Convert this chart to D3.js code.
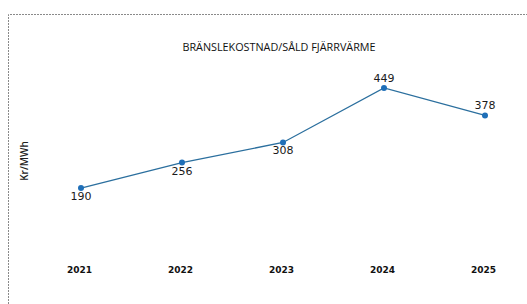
<!DOCTYPE html>
<html>
<meta charset="utf-8">
<script src="https://cdn.jsdelivr.net/npm/d3@7"></script>
<title>Bränslekostnad</title>
<style>
body { margin: 0; background: #fff; }
</style>
<body>
<script type="text/javascript">

var years  = ["2021", "2022", "2023", "2024", "2025"];
var values = [190, 256, 308, 449, 378];
// label placement per point: below or above the marker
var labelPos = ["below", "below", "below", "above", "above"];

var size = { width : 527, height : 304 };

var xScale = d3.scalePoint()
    .domain(years)
    .range([81, 485]);
var yScale = d3.scaleLinear()
    .domain([0, 500])
    .range([261.4, 68.3]);

var svg = d3.select("body")
    .append("svg")
    .attr("width", size.width)
    .attr("height", size.height);

// dotted frame of the scanned page
svg.append("path")
    .attr("d", "M8.5,304 V14.5 H527")
    .attr("fill", "none")
    .attr("stroke", "#8a8a8a")
    .attr("stroke-width", 1)
    .attr("stroke-dasharray", "2,1");

svg.append("text")
    .attr("x", 279)
    .attr("y", 51)
    .attr("text-anchor", "middle")
    .style("font", "500 10.8px 'Open Sans', sans-serif")
    .attr("fill", "#111")
    .text("BRÄNSLEKOSTNAD/SÅLD FJÄRRVÄRME");

svg.append("text")
    .attr("transform", "translate(28,161) rotate(-90)")
    .attr("text-anchor", "middle")
    .style("font", "600 10px 'Open Sans', sans-serif")
    .attr("fill", "#222")
    .text("Kr/MWh");

// x axis, labels only
var xAxis = svg.append("g")
    .attr("transform", "translate(0,267)")
    .call(d3.axisBottom(xScale).tickSize(0).tickPadding(0));
xAxis.select(".domain").remove();
xAxis.selectAll("text")
    .attr("dx", -2)
    .attr("dy", "0.71em")
    .style("font", "bold 9px 'DejaVu Sans', sans-serif")
    .attr("fill", "#111");

var data = years.map(function(y, i) {
    return { year: y, value: values[i], pos: labelPos[i] };
});

var line = d3.line()
    .x(function(d) { return xScale(d.year); })
    .y(function(d) { return yScale(d.value); });

svg.append("path")
    .datum(data)
    .attr("d", line)
    .attr("fill", "none")
    .attr("stroke", "#2b6f9e")
    .attr("stroke-width", 1.3);

svg.selectAll(".dot")
    .data(data)
    .enter().append("circle")
    .attr("class", "dot")
    .attr("cx", function(d) { return xScale(d.year); })
    .attr("cy", function(d) { return yScale(d.value); })
    .attr("r", 3)
    .attr("fill", "#1f6fb8");

svg.selectAll(".val")
    .data(data)
    .enter().append("text")
    .attr("class", "val")
    .attr("x", function(d) { return xScale(d.year); })
    .attr("y", function(d) { return yScale(d.value) + (d.pos == "below" ? 12 : -6); })
    .attr("text-anchor", "middle")
    .style("font", "11px 'DejaVu Sans', sans-serif")
    .attr("fill", "#1a1a1a")
    .text(function(d) { return d.value; });

</script>
</body>
</html>
